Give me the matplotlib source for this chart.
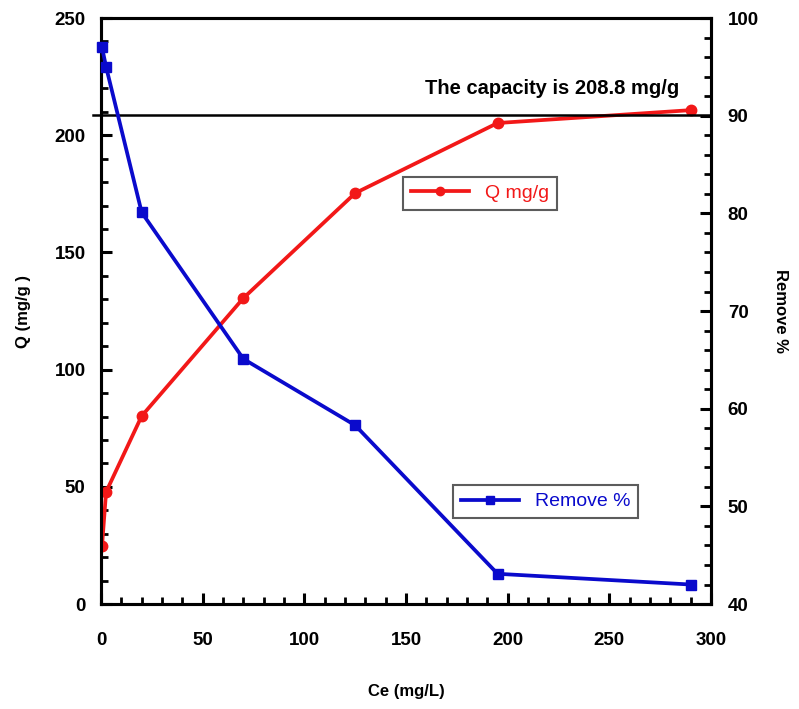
import matplotlib.pyplot as plt
import matplotlib as mpl
from matplotlib.ticker import MultipleLocator

mpl.rcParams['font.family'] = ['Liberation Sans', 'DejaVu Sans']

# Data
ce = [0.5, 2.5, 20, 70, 125, 195, 290]
q_mg_g = [24.7, 47.8, 80.2, 130.5, 175.3, 205.2, 210.7]
remove_pct = [97.0, 95.0, 80.1, 65.1, 58.3, 43.1, 42.0]
capacity = 208.8

RED = '#f21818'
BLUE = '#0a0acc'

fig = plt.figure(figsize=(7.99, 7.09), dpi=100)
ax = fig.add_axes([0.1264, 0.148, 0.7636, 0.8266])
ax2 = ax.twinx()

# Q curve on the left axis
lq, = ax.plot(ce, q_mg_g, color=RED, lw=2.7, marker='o', markersize=7.5, label='Q mg/g', zorder=3)
# capacity line
ax.plot([-4, 300], [capacity, capacity], color='black', lw=1.8, clip_on=False, zorder=4)
ax.text(222, 220, 'The capacity is 208.8 mg/g', ha='center', va='center',
        fontsize=14.5, fontweight='bold', zorder=5)

# Remove % on the right axis
lr, = ax2.plot(ce, remove_pct, color=BLUE, lw=2.7, marker='s', markersize=7.5,
               label='Remove %', clip_on=False, zorder=3)

ax.set_xlim(0, 300)
ax.set_ylim(0, 250)
ax2.set_ylim(40, 100)

ax.xaxis.set_major_locator(MultipleLocator(50))
ax.xaxis.set_minor_locator(MultipleLocator(10))
ax.yaxis.set_major_locator(MultipleLocator(50))
ax.yaxis.set_minor_locator(MultipleLocator(10))
ax2.yaxis.set_major_locator(MultipleLocator(10))
ax2.yaxis.set_minor_locator(MultipleLocator(2))

for a in (ax, ax2):
    for s in a.spines.values():
        s.set_linewidth(2.2)
    a.tick_params(which='major', direction='in', length=8, width=2.2, labelsize=13.5)
    a.tick_params(which='minor', direction='in', length=5, width=2.0)
    for lab in a.get_xticklabels() + a.get_yticklabels():
        lab.set_fontweight('bold')

ax.tick_params(axis='x', which='major', pad=20)
ax.tick_params(axis='y', which='major', pad=11)
ax.tick_params(axis='y', which='both', right=False)
ax2.tick_params(axis='y', which='major', pad=12)

ax.set_xlabel('Ce (mg/L)', fontsize=12, fontweight='bold', labelpad=25)
ax.set_ylabel('Q (mg/g )', fontsize=12, fontweight='bold', labelpad=17)
ax2.set_ylabel('Remove %', fontsize=12, fontweight='bold', rotation=-90, labelpad=21)

leg1 = ax2.legend(handles=[lq], loc='upper left', bbox_to_anchor=(0.495, 0.729),
                  borderaxespad=0, fontsize=14, frameon=True, fancybox=False,
                  handlelength=3.0, labelcolor=RED, borderpad=0.4, markerscale=0.8)
leg1.get_frame().set_edgecolor('#333333')
leg1.get_frame().set_linewidth(1.5)
ax2.add_artist(leg1)

leg2 = ax2.legend(handles=[lr], loc='upper left', bbox_to_anchor=(0.577, 0.203),
                  borderaxespad=0, fontsize=14, frameon=True, fancybox=False,
                  handlelength=3.0, labelcolor=BLUE, borderpad=0.4, markerscale=0.8)
leg2.get_frame().set_edgecolor('#333333')
leg2.get_frame().set_linewidth(1.5)

fig.savefig('out.png', dpi=100)
